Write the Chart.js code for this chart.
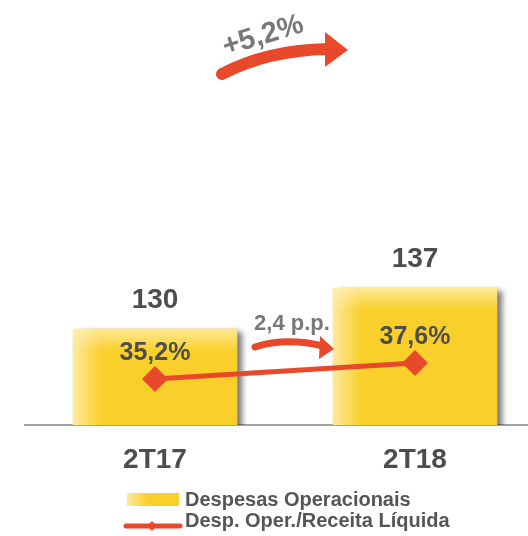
<!DOCTYPE html>
<html>
<head>
<meta charset="utf-8">
<script src="https://cdn.jsdelivr.net/npm/chart.js@4.4.1/dist/chart.umd.min.js"></script>
<style>
  html, body { margin: 0; padding: 0; background: #fff; overflow: hidden; }
  #wrap { width: 528px; height: 536px; overflow: hidden; }
  #myChart { display: block; margin-top: -13px; }
</style>
</head>
<body>
<div id="wrap"><canvas id="myChart" width="558" height="549"></canvas></div>
<script>
const categories = ['2T17', '2T18'];
const despesas = [130, 137];
const despReceita = [35.2, 37.6];
const seriesNames = ['Despesas Operacionais', 'Desp. Oper./Receita Líquida'];
const growthLabel = '+5,2%';
const ppLabel = '2,4 p.p.';

const yellow = '#f9d02b';
const yellowLight = '#fde9a0';
const red = '#e8492b';
const darkText = '#4d4d4d';
const greyText = '#787878';
const FONT = '"Liberation Sans", Arial, sans-serif';
const OFF = 13; // canvas is shifted up by the point overflow padding

const fmtPct = (v) => v.toFixed(1).replace('.', ',') + '%';

const ctx = document.getElementById('myChart').getContext('2d');

// shadow, highlight, value labels, category labels, arrows and legend
const decor = {
    id: 'decor',
    beforeDatasetDraw(chart, args) {
        if (args.index !== 1) return;
        const c = chart.ctx;
        c.save();
        c.shadowColor = 'rgba(0,0,0,0.55)';
        c.shadowBlur = 6;
        c.shadowOffsetX = 5;
        c.shadowOffsetY = 3;
    },
    afterDatasetDraw(chart, args) {
        if (args.index !== 1) return;
        const c = chart.ctx;
        c.restore();
        args.meta.data.forEach((el) => {
            const p = el.getProps(['x', 'y', 'width', 'base'], true);
            const left = p.x - p.width / 2;
            const g = c.createLinearGradient(0, p.y, 0, p.y + 22);
            g.addColorStop(0, 'rgba(255,240,185,0.75)');
            g.addColorStop(1, 'rgba(255,240,185,0)');
            c.fillStyle = g;
            c.fillRect(left, p.y, p.width, 22);
        });
    },
    afterDatasetsDraw(chart) {
        const c = chart.ctx;
        const xs = chart.scales.x;
        c.save();
        c.textAlign = 'center';
        c.textBaseline = 'middle';
        // bar values
        c.fillStyle = darkText;
        c.font = 'bold 28px ' + FONT;
        chart.getDatasetMeta(1).data.forEach((el, i) => {
            c.fillText(String(despesas[i]), el.x, el.y - 29);
        });
        // category labels under the axis
        categories.forEach((lab, i) => {
            c.fillText(lab, xs.getPixelForValue(i), xs.top + 35);
        });
        // ratio values
        c.font = 'bold 25px ' + FONT;
        chart.getDatasetMeta(0).data.forEach((el, i) => {
            c.fillText(fmtPct(despReceita[i]), el.x, el.y - 26);
        });

        c.translate(0, OFF);
        // big growth arrow
        c.strokeStyle = red;
        c.fillStyle = red;
        c.lineCap = 'round';
        c.lineWidth = 12;
        c.beginPath();
        c.moveTo(222, 74);
        c.quadraticCurveTo(268, 50, 328, 49);
        c.stroke();
        c.beginPath();
        c.moveTo(325, 32);
        c.lineTo(348, 50);
        c.lineTo(325, 67);
        c.closePath();
        c.fill();

        c.save();
        c.translate(263, 36);
        c.rotate(-17 * Math.PI / 180);
        c.fillStyle = greyText;
        c.font = 'bold 29px ' + FONT;
        c.fillText(growthLabel, 0, 0);
        c.restore();

        // small p.p. arrow
        c.lineWidth = 7;
        c.beginPath();
        c.moveTo(255, 347);
        c.quadraticCurveTo(286, 337, 323, 346);
        c.stroke();
        c.beginPath();
        c.moveTo(320, 336);
        c.lineTo(334, 349);
        c.lineTo(319, 359);
        c.closePath();
        c.fill();

        c.fillStyle = greyText;
        c.font = 'bold 22px ' + FONT;
        c.fillText(ppLabel, 292, 324);
        c.restore();
    },
    afterDraw(chart) {
        const c = chart.ctx;
        c.save();
        c.translate(0, OFF);
        // bar swatch
        const g = c.createLinearGradient(127, 0, 179, 0);
        g.addColorStop(0, yellowLight);
        g.addColorStop(0.4, yellow);
        g.addColorStop(1, yellow);
        c.fillStyle = g;
        c.fillRect(127, 493, 52, 13);
        // line swatch
        c.strokeStyle = red;
        c.lineWidth = 5;
        c.lineCap = 'round';
        c.beginPath();
        c.moveTo(126, 526);
        c.lineTo(180, 526);
        c.stroke();
        c.fillStyle = red;
        c.beginPath();
        c.moveTo(152, 521);
        c.lineTo(157, 526);
        c.lineTo(152, 531);
        c.lineTo(147, 526);
        c.closePath();
        c.fill();

        c.fillStyle = '#555555';
        c.font = 'bold 20px ' + FONT;
        c.textAlign = 'left';
        c.textBaseline = 'alphabetic';
        c.fillText(seriesNames[0], 185, 506);
        c.fillText(seriesNames[1], 185, 527);
        c.restore();
    }
};

const myChart = new Chart(ctx, {
    type: 'bar',
    data: {
        labels: categories,
        datasets: [{
            type: 'line',
            label: seriesNames[1],
            data: despReceita,
            yAxisID: 'y1',
            borderColor: red,
            backgroundColor: red,
            borderWidth: 5,
            pointStyle: 'rectRot',
            pointRadius: 13,
            pointHoverRadius: 13,
            pointBorderWidth: 0,
            fill: false,
            order: 1
        }, {
            type: 'bar',
            label: seriesNames[0],
            data: despesas,
            yAxisID: 'y',
            barThickness: 164,
            backgroundColor: (context) => {
                const chart = context.chart;
                if (!chart.chartArea || context.dataIndex === undefined) return yellow;
                const cx = chart.scales.x.getPixelForValue(context.dataIndex);
                const g = chart.ctx.createLinearGradient(cx - 82, 0, cx + 82, 0);
                g.addColorStop(0, yellowLight);
                g.addColorStop(0.17, yellow);
                g.addColorStop(1, yellow);
                return g;
            },
            borderWidth: 0,
            order: 2
        }]
    },
    options: {
        responsive: false,
        animation: false,
        layout: {
            padding: { left: 25, right: 0, top: 0, bottom: 111 }
        },
        plugins: {
            legend: { display: false },
            tooltip: { enabled: false }
        },
        scales: {
            x: {
                offset: true,
                grid: { display: false, drawTicks: false },
                border: { display: true, color: '#a3a3a3', width: 2 },
                ticks: { display: false }
            },
            y: {
                display: false,
                min: 113.6,
                max: 186.2
            },
            y1: {
                display: false,
                min: 28.3,
                max: 92.05
            }
        }
    },
    plugins: [decor]
});
</script>
</body>
</html>
